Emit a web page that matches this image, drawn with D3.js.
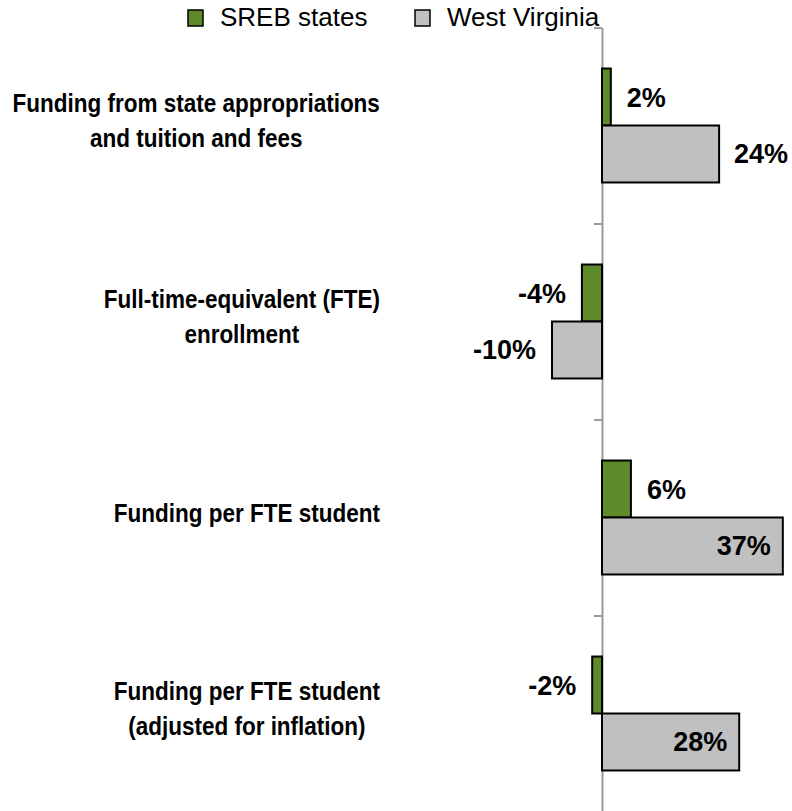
<!DOCTYPE html>
<html>
<head>
<meta charset="utf-8">
<script src="https://cdn.jsdelivr.net/npm/d3@7"></script>
<style>
  body { margin: 0; background: #fff; }
  svg { display: block; font-family: "Liberation Sans", Arial, sans-serif; }
</style>
</head>
<body>
<div id="chart"></div>
<script>
// categories (each one split into its printed lines)
const categories = [
  ['Funding from state appropriations', 'and tuition and fees'],
  ['Full-time-equivalent (FTE)', 'enrollment'],
  ['Funding per FTE student'],
  ['Funding per FTE student', '(adjusted for inflation)']
]
const seriesNames = ['SREB states', 'West Virginia']
const srebValues = [1.8, -4.1, 5.9, -2.0]
const wvValues = [23.9, -10.2, 36.9, 28.0]
const seriesColors = ['#5e8a2a', '#c0c0c0']

const width = 792
const height = 811
const svg = d3.select('#chart').append('svg')
  .attr('width', width)
  .attr('height', height)

const x = d3.scaleLinear().domain([-40, 40]).range([406, 798])
const y0 = d3.scaleBand().domain(d3.range(categories.length)).range([27.5, 811.5])
const y1 = d3.scaleBand().domain(seriesNames).range([0, y0.bandwidth()])
  .paddingInner(0).paddingOuter(0.72)

const rows = categories.map(function (c, i) {
  return { i: i, lines: c, values: [srebValues[i], wvValues[i]] }
})

// vertical category axis at zero, ticks between the groups
const tickScale = d3.scaleLinear().domain([0, categories.length]).range([27.5, 811.5])
const axis = svg.append('g')
  .attr('transform', 'translate(' + x(0) + ',0)')
  .call(d3.axisLeft(tickScale).ticks(categories.length).tickFormat('').tickSizeInner(8).tickSizeOuter(0))
axis.selectAll('path, line').attr('stroke', '#9a9a9a').attr('stroke-width', 2)

// bars
const groups = svg.selectAll('.grp').data(rows).enter().append('g')
  .attr('class', 'grp')
  .attr('transform', function (d) { return 'translate(0,' + y0(d.i) + ')' })

groups.selectAll('rect').data(function (d) {
  return d.values.map(function (v, k) { return { v: v, k: k } })
}).enter().append('rect')
  .attr('x', function (d) { return Math.min(x(0), x(d.v)) })
  .attr('y', function (d) { return y1(seriesNames[d.k]) })
  .attr('width', function (d) { return Math.abs(x(d.v) - x(0)) })
  .attr('height', y1.bandwidth())
  .attr('fill', function (d) { return seriesColors[d.k] })
  .attr('stroke', '#000')
  .attr('stroke-width', 2)

// value labels (plain hyphen for negatives, like the source)
const fmt = d3.formatLocale({ decimal: '.', thousands: ',', grouping: [3], currency: ['', ''], minus: '-' }).format('.0f')
const rightLimit = 788
groups.selectAll('text.val').data(function (d) {
  return d.values.map(function (v, k) { return { v: v, k: k } })
}).enter().append('text')
  .attr('class', 'val')
  .attr('y', function (d) { return y1(seriesNames[d.k]) + y1.bandwidth() / 2 + 9.5 })
  .attr('font-size', 27)
  .attr('font-weight', 'bold')
  .attr('fill', '#000')
  .text(function (d) { return fmt(d.v) + '%' })
  .each(function (d) {
    const t = d3.select(this)
    const w = this.getComputedTextLength()
    if (d.v < 0) {
      t.attr('text-anchor', 'end').attr('x', x(d.v) - 16)
      return
    }
    let end = Math.min(x(d.v) + 16 + w, rightLimit)
    if (end - w < x(d.v) + 4) end = x(d.v) - 12
    t.attr('text-anchor', 'end').attr('x', end)
  })

// category labels, lines centred on each other, block right-aligned
const labelRight = 380
const squeeze = 0.9
groups.each(function (d) {
  const g = d3.select(this).append('g')
  const c = y0.bandwidth() / 2
  const n = d.lines.length
  const texts = g.selectAll('text').data(d.lines).enter().append('text')
    .attr('text-anchor', 'middle')
    .attr('font-size', 25)
    .attr('font-weight', 'bold')
    .attr('fill', '#000')
    .attr('y', function (s, i) { return 4 + (i - (n - 1) / 2) * 35 })
    .text(function (s) { return s })
  let maxW = 0
  texts.each(function () { maxW = Math.max(maxW, this.getComputedTextLength()) })
  g.attr('transform', 'translate(' + (labelRight - maxW * squeeze / 2) + ',' + c + ') scale(' + squeeze + ',1)')
})

// legend
const legendX = [188, 415]
const legend = svg.selectAll('.leg').data(seriesNames).enter().append('g')
  .attr('class', 'leg')
  .attr('transform', function (d, i) { return 'translate(' + legendX[i] + ',0)' })
legend.append('rect')
  .attr('x', 0).attr('y', 10)
  .attr('width', 15).attr('height', 16)
  .attr('fill', function (d, i) { return seriesColors[i] })
  .attr('stroke', '#000')
  .attr('stroke-width', 1.5)
legend.append('text')
  .attr('x', 32).attr('y', 26)
  .attr('font-size', 26)
  .attr('fill', '#000')
  .text(function (d) { return d })
</script>
</body>
</html>
